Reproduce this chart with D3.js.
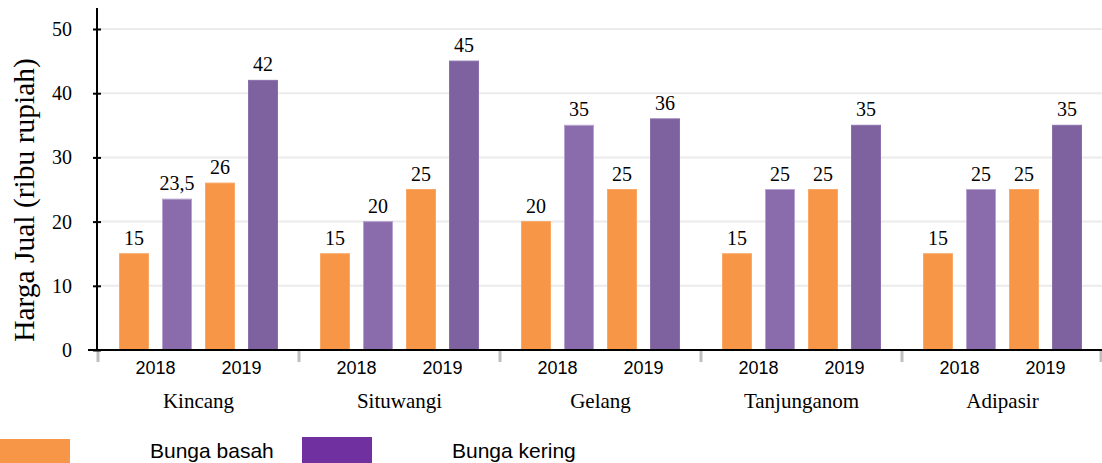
<!DOCTYPE html>
<html>
<head>
<meta charset="utf-8">
<script src="https://cdn.jsdelivr.net/npm/d3@7"></script>
<style>
  body { margin: 0; background: #fff; }
  svg { display: block; }
</style>
</head>
<body>
<svg id="chart"></svg>
<script>
const groups = ["Kincang", "Situwangi", "Gelang", "Tanjunganom", "Adipasir"];
const years = ["2018", "2019"];
const basah2018 = [15, 15, 20, 15, 15];
const kering2018 = [23.5, 20, 35, 25, 25];
const basah2019 = [26, 25, 25, 25, 25];
const kering2019 = [42, 45, 36, 35, 35];
const yTicks = [0, 10, 20, 30, 40, 50];
const seriesNames = ["Bunga basah", "Bunga kering"];

const width = 1102;
const height = 463;

const svg = d3.select("#chart").attr("width", width).attr("height", height);

const x0 = d3.scaleBand().domain(groups).range([98, 1103]);
const barKeys = ["b2018", "k2018", "b2019", "k2019"];
const x1 = d3.scaleBand().domain(barKeys).range([0, x0.bandwidth()])
  .paddingInner(0.326).paddingOuter(0.5);
const y = d3.scaleLinear().domain([0, 50]).range([350, 29]);

const colors = {b2018: "#F79646", k2018: "#8A6CAD", b2019: "#F79646", k2019: "#7E62A0"};
const strokes = {b2018: "#F9A868", k2018: "#B7A3CF", b2019: "#F9A868", k2019: "#8A70AA"};

// gridlines
svg.append("g").selectAll("line")
  .data(yTicks.filter(d => d > 0))
  .join("line")
  .attr("x1", 100).attr("x2", width)
  .attr("y1", d => y(d)).attr("y2", d => y(d))
  .attr("stroke", "#EBEBEB").attr("stroke-width", 2);

// bars
const rows = groups.map((g, i) => ({
  group: g,
  vals: [
    {key: "b2018", value: basah2018[i]},
    {key: "k2018", value: kering2018[i]},
    {key: "b2019", value: basah2019[i]},
    {key: "k2019", value: kering2019[i]}
  ]
}));

const fmt = v => d3.format("~f")(v).replace(".", ",");

const gGroup = svg.append("g").selectAll("g")
  .data(rows)
  .join("g")
  .attr("transform", d => `translate(${x0(d.group)},0)`);

gGroup.selectAll("rect")
  .data(d => d.vals)
  .join("rect")
  .attr("x", d => x1(d.key))
  .attr("y", d => y(d.value))
  .attr("width", x1.bandwidth())
  .attr("height", d => y(0) - y(d.value))
  .attr("fill", d => colors[d.key])
  .attr("stroke", d => strokes[d.key])
  .attr("stroke-width", 1);

gGroup.selectAll("text.val")
  .data(d => d.vals)
  .join("text")
  .attr("class", "val")
  .attr("x", d => x1(d.key) + x1.bandwidth() / 2)
  .attr("y", d => y(d.value) - 9)
  .attr("text-anchor", "middle")
  .attr("font-family", "Liberation Serif, serif")
  .attr("font-size", 20)
  .attr("fill", "#000")
  .text(d => fmt(d.value));

// year labels
gGroup.selectAll("text.year")
  .data(years)
  .join("text")
  .attr("class", "year")
  .attr("x", (d, i) => (x1(barKeys[i * 2]) + x1(barKeys[i * 2 + 1]) + x1.bandwidth()) / 2)
  .attr("y", 374)
  .attr("text-anchor", "middle")
  .attr("font-family", "Liberation Sans, Arial, sans-serif")
  .attr("font-size", 18)
  .attr("fill", "#000")
  .text(d => d);

// group labels
gGroup.append("text")
  .attr("x", x0.bandwidth() / 2)
  .attr("y", 408)
  .attr("text-anchor", "middle")
  .attr("font-family", "Liberation Serif, serif")
  .attr("font-size", 21)
  .attr("fill", "#000")
  .text(d => d.group);

// group separator ticks
svg.append("g").selectAll("line")
  .data(groups.concat(["end"]))
  .join("line")
  .attr("x1", (d, i) => i < groups.length ? x0(d) : x0.range()[1] - 2)
  .attr("x2", (d, i) => i < groups.length ? x0(d) : x0.range()[1] - 2)
  .attr("y1", 351).attr("y2", 362)
  .attr("stroke", "#BFBFBF").attr("stroke-width", 3);

// x axis line
svg.append("line")
  .attr("x1", 88).attr("x2", width)
  .attr("y1", y(0)).attr("y2", y(0))
  .attr("stroke", "#000").attr("stroke-width", 2);

// y axis
const yAxis = svg.append("g")
  .attr("transform", "translate(97,0)")
  .call(d3.axisLeft(y).tickValues(yTicks).tickSize(0).tickPadding(25));
yAxis.select(".domain").remove();
yAxis.append("line")
  .attr("x1", 0).attr("x2", 0).attr("y1", 8).attr("y2", 351)
  .attr("stroke", "#000").attr("stroke-width", 2);
yAxis.selectAll(".tick").append("line")
  .attr("x1", -4).attr("x2", 4)
  .attr("stroke", "#000").attr("stroke-width", 2);
yAxis.selectAll(".tick text")
  .attr("font-family", "Liberation Serif, serif")
  .attr("font-size", 20)
  .attr("fill", "#000");

// y title
svg.append("text")
  .attr("transform", "translate(34,200) rotate(-90)")
  .attr("text-anchor", "middle")
  .attr("font-family", "Liberation Serif, serif")
  .attr("font-size", 29.5)
  .attr("fill", "#000")
  .text("Harga Jual (ribu rupiah)");

// legend
const legendColors = ["#F79646", "#7030A0"];
const legend = svg.append("g").selectAll("g")
  .data(seriesNames)
  .join("g")
  .attr("transform", (d, i) => `translate(${i * 302},0)`);
legend.append("rect")
  .attr("x", 0).attr("y", (d, i) => i === 0 ? 439 : 437)
  .attr("width", 70).attr("height", 26)
  .attr("fill", (d, i) => legendColors[i]);
legend.append("text")
  .attr("x", 150).attr("y", 458)
  .attr("font-family", "Liberation Sans, Arial, sans-serif")
  .attr("font-size", 21)
  .attr("fill", "#000")
  .text(d => d);
</script>
</body>
</html>
